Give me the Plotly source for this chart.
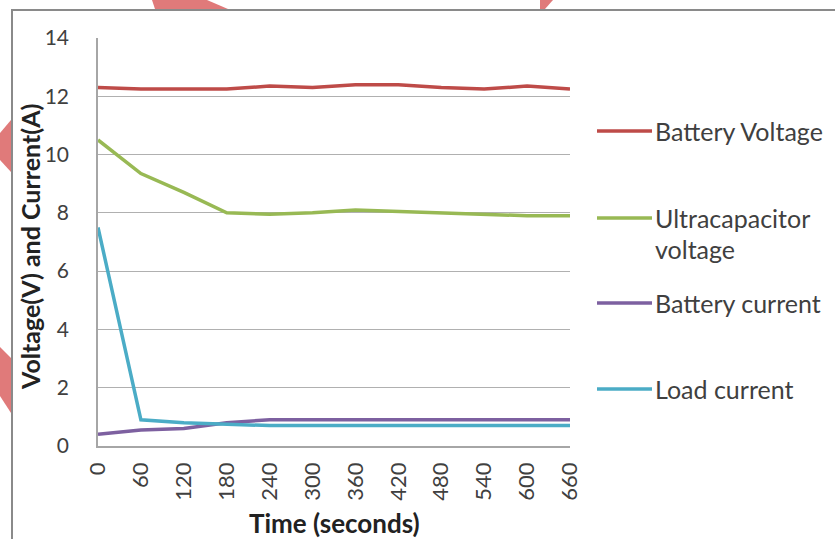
import plotly.graph_objects as go

# Sampling times (seconds)
time_s = [0, 60, 120, 180, 240, 300, 360, 420, 480, 540, 600, 660]

battery_voltage = [12.3, 12.25, 12.25, 12.25, 12.35, 12.3, 12.4, 12.4, 12.3, 12.25, 12.35, 12.25]
ultracap_voltage = [10.5, 9.35, 8.7, 8.0, 7.95, 8.0, 8.1, 8.05, 8.0, 7.95, 7.9, 7.9]
battery_current = [0.4, 0.55, 0.6, 0.8, 0.9, 0.9, 0.9, 0.9, 0.9, 0.9, 0.9, 0.9]
load_current = [7.5, 0.9, 0.8, 0.75, 0.7, 0.7, 0.7, 0.7, 0.7, 0.7, 0.7, 0.7]

series_names = ["Battery Voltage", "Ultracapacitor\nvoltage", "Battery current", "Load current"]
series_values = [battery_voltage, ultracap_voltage, battery_current, load_current]
series_colors = ["#BE4B48", "#98B954", "#7D60A0", "#4BACC6"]

y_ticks = [0, 2, 4, 6, 8, 10, 12, 14]

W, H = 835, 539
L, R, T, B = 98, 265, 38, 93
PW, PH = W - L - R, H - T - B


def px(x):
    return (x - L) / PW


def py(y):
    return (H - B - y) / PH


FONT = "Lato"
TXT = "#404040"

fig = go.Figure()
for name, vals, col in zip(series_names, series_values, series_colors):
    fig.add_trace(go.Scatter(
        x=time_s, y=vals, mode="lines", name=name.replace("\n", " "),
        line=dict(color=col, width=3.5), showlegend=False,
    ))

shapes = []
annotations = []

# Outer chart frame
shapes.append(dict(type="rect", xref="paper", yref="paper",
                   x0=px(12), x1=px(850), y0=py(10), y1=py(560),
                   line=dict(color="#8a8a8a", width=2), layer="below"))

# Pink page marks around the frame
pink = "#E07A7A"
pink_paths = [
    [(152, 0), (207, 0), (228, 9), (155, 9)],
    [(540, 0), (553, 0), (545, 9), (540, 9)],
    [(0, 133), (11, 120), (11, 172), (0, 160)],
    [(0, 347), (11, 358), (11, 413), (0, 396)],
]
for poly in pink_paths:
    d = "M " + " L ".join(f"{px(a):.5f},{py(b):.5f}" for a, b in poly) + " Z"
    shapes.append(dict(type="path", xref="paper", yref="paper", path=d,
                       fillcolor=pink, line=dict(width=0)))

# Legend drawn at the right of the plot
legend_y = [131, 218, 303, 389]
for name, col, ly in zip(series_names, series_colors, legend_y):
    shapes.append(dict(type="line", xref="paper", yref="paper",
                       x0=px(597), x1=px(652), y0=py(ly), y1=py(ly),
                       line=dict(color=col, width=3.5)))
    for i, part in enumerate(name.split("\n")):
        annotations.append(dict(xref="paper", yref="paper", x=px(653), y=py(ly + 31 * i),
                                text=part, showarrow=False, xanchor="left", yanchor="middle",
                                font=dict(family=FONT, size=25, color=TXT)))

# Axis titles
annotations.append(dict(xref="paper", yref="paper", x=px(334), y=py(523),
                        text="<b>Time (seconds)</b>", showarrow=False,
                        xanchor="center", yanchor="middle",
                        font=dict(family=FONT, size=26, color="#222222")))
annotations.append(dict(xref="paper", yref="paper", x=px(30), y=py(247),
                        text="<b>Voltage(V) and Current(A)</b>", showarrow=False,
                        textangle=-90, xanchor="center", yanchor="middle",
                        font=dict(family=FONT, size=25, color="#222222")))

fig.update_layout(
    width=W, height=H,
    margin=dict(l=L, r=R, t=T, b=B, autoexpand=False),
    paper_bgcolor="white", plot_bgcolor="white",
    shapes=shapes, annotations=annotations,
    xaxis=dict(range=[0, 660], tickvals=time_s, ticktext=[str(t) for t in time_s],
               tickangle=-90, showgrid=False, zeroline=False,
               showline=True, linecolor="#a6a6a6", linewidth=1.5,
               ticks="", ticklabelstandoff=6,
               tickfont=dict(family=FONT, size=22, color=TXT)),
    yaxis=dict(range=[0, 14], tickvals=y_ticks, showgrid=True, gridcolor="#b0b0b0",
               gridwidth=1.2, zeroline=False, showline=True, linecolor="#a6a6a6",
               linewidth=1.5, ticks="", ticklabelstandoff=23,
               tickfont=dict(family=FONT, size=21, color=TXT)),
)

fig.write_html("out.html")
